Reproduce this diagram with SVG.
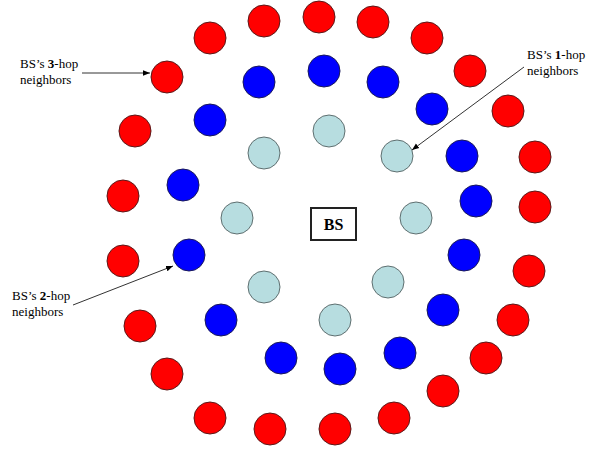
<svg xmlns="http://www.w3.org/2000/svg" width="601" height="451" viewBox="0 0 601 451">
<style>
.r{fill:#ff0000;stroke:#5a1a1a;stroke-width:1}
.b{fill:#0000ff;stroke:#1a1a5a;stroke-width:1}
.l{fill:#b7dde0;stroke:#5f6f70;stroke-width:1}
.t{font-family:"Liberation Serif","Times New Roman",serif;font-size:13px;fill:#000}
.c{stroke:#333;stroke-width:1;fill:none}
</style>
<defs>
<marker id="ah" viewBox="0 0 10 10" refX="10" refY="5" markerWidth="7" markerHeight="7" orient="auto" markerUnits="userSpaceOnUse">
<path d="M0,1 L10,5 L0,9 Z" fill="#000"/>
</marker>
</defs>
<rect width="601" height="451" fill="#fff"/>
<g id="hop3">
<circle class="r" cx="264" cy="21" r="16"/>
<circle class="r" cx="319" cy="17" r="16"/>
<circle class="r" cx="373" cy="22" r="16"/>
<circle class="r" cx="210" cy="38" r="16"/>
<circle class="r" cx="427" cy="38" r="16"/>
<circle class="r" cx="167" cy="77" r="16"/>
<circle class="r" cx="470" cy="71" r="16"/>
<circle class="r" cx="508" cy="111" r="16"/>
<circle class="r" cx="135" cy="131" r="16"/>
<circle class="r" cx="535" cy="157" r="16"/>
<circle class="r" cx="123" cy="196" r="16"/>
<circle class="r" cx="535" cy="207" r="16"/>
<circle class="r" cx="123" cy="261" r="16"/>
<circle class="r" cx="529" cy="271" r="16"/>
<circle class="r" cx="140" cy="326" r="16"/>
<circle class="r" cx="513" cy="320" r="16"/>
<circle class="r" cx="167" cy="374" r="16"/>
<circle class="r" cx="486" cy="358" r="16"/>
<circle class="r" cx="210" cy="418" r="16"/>
<circle class="r" cx="443" cy="391" r="16"/>
<circle class="r" cx="270" cy="429" r="16"/>
<circle class="r" cx="335" cy="429" r="16"/>
<circle class="r" cx="394" cy="418" r="16"/>
</g>
<g id="hop2">
<circle class="b" cx="324" cy="71" r="16"/>
<circle class="b" cx="383" cy="82" r="16"/>
<circle class="b" cx="259" cy="82" r="16"/>
<circle class="b" cx="210" cy="120" r="16"/>
<circle class="b" cx="432" cy="109" r="16"/>
<circle class="b" cx="462" cy="156" r="16"/>
<circle class="b" cx="183" cy="185" r="16"/>
<circle class="b" cx="476" cy="201" r="16"/>
<circle class="b" cx="189" cy="255" r="16"/>
<circle class="b" cx="464" cy="255" r="16"/>
<circle class="b" cx="221" cy="320" r="16"/>
<circle class="b" cx="443" cy="310" r="16"/>
<circle class="b" cx="281" cy="358" r="16"/>
<circle class="b" cx="340" cy="369" r="16"/>
<circle class="b" cx="400" cy="353" r="16"/>
</g>
<g id="hop1">
<circle class="l" cx="264" cy="153" r="16"/>
<circle class="l" cx="329" cy="131" r="16"/>
<circle class="l" cx="397" cy="156" r="16"/>
<circle class="l" cx="237" cy="218" r="16"/>
<circle class="l" cx="416" cy="218" r="16"/>
<circle class="l" cx="264" cy="287" r="16"/>
<circle class="l" cx="388" cy="282" r="16"/>
<circle class="l" cx="335" cy="320" r="16"/>
</g>
<g id="bs">
<rect x="311" y="208" width="45" height="32" fill="#fff" stroke="#222" stroke-width="2"/>
<text x="333.5" y="230" text-anchor="middle" style="font-family:'Liberation Serif','Times New Roman',serif;font-size:16px;font-weight:bold">BS</text>
</g>
<g id="label3">
<text class="t" x="20" y="68">BS’s <tspan font-weight="bold">3</tspan>-hop</text>
<text class="t" x="20" y="84">neighbors</text>
</g>
<g id="label1">
<text class="t" x="527" y="59">BS’s <tspan font-weight="bold">1</tspan>-hop</text>
<text class="t" x="527" y="75">neighbors</text>
</g>
<g id="label2">
<text class="t" x="12" y="300">BS’s <tspan font-weight="bold">2</tspan>-hop</text>
<text class="t" x="12" y="316">neighbors</text>
</g>
<g id="connectors">
<line class="c" x1="82" y1="73" x2="150" y2="73" marker-end="url(#ah)"/>
<line class="c" x1="524" y1="67" x2="412" y2="150" marker-end="url(#ah)"/>
<line class="c" x1="73" y1="305" x2="173" y2="266" marker-end="url(#ah)"/>
</g>
</svg>
